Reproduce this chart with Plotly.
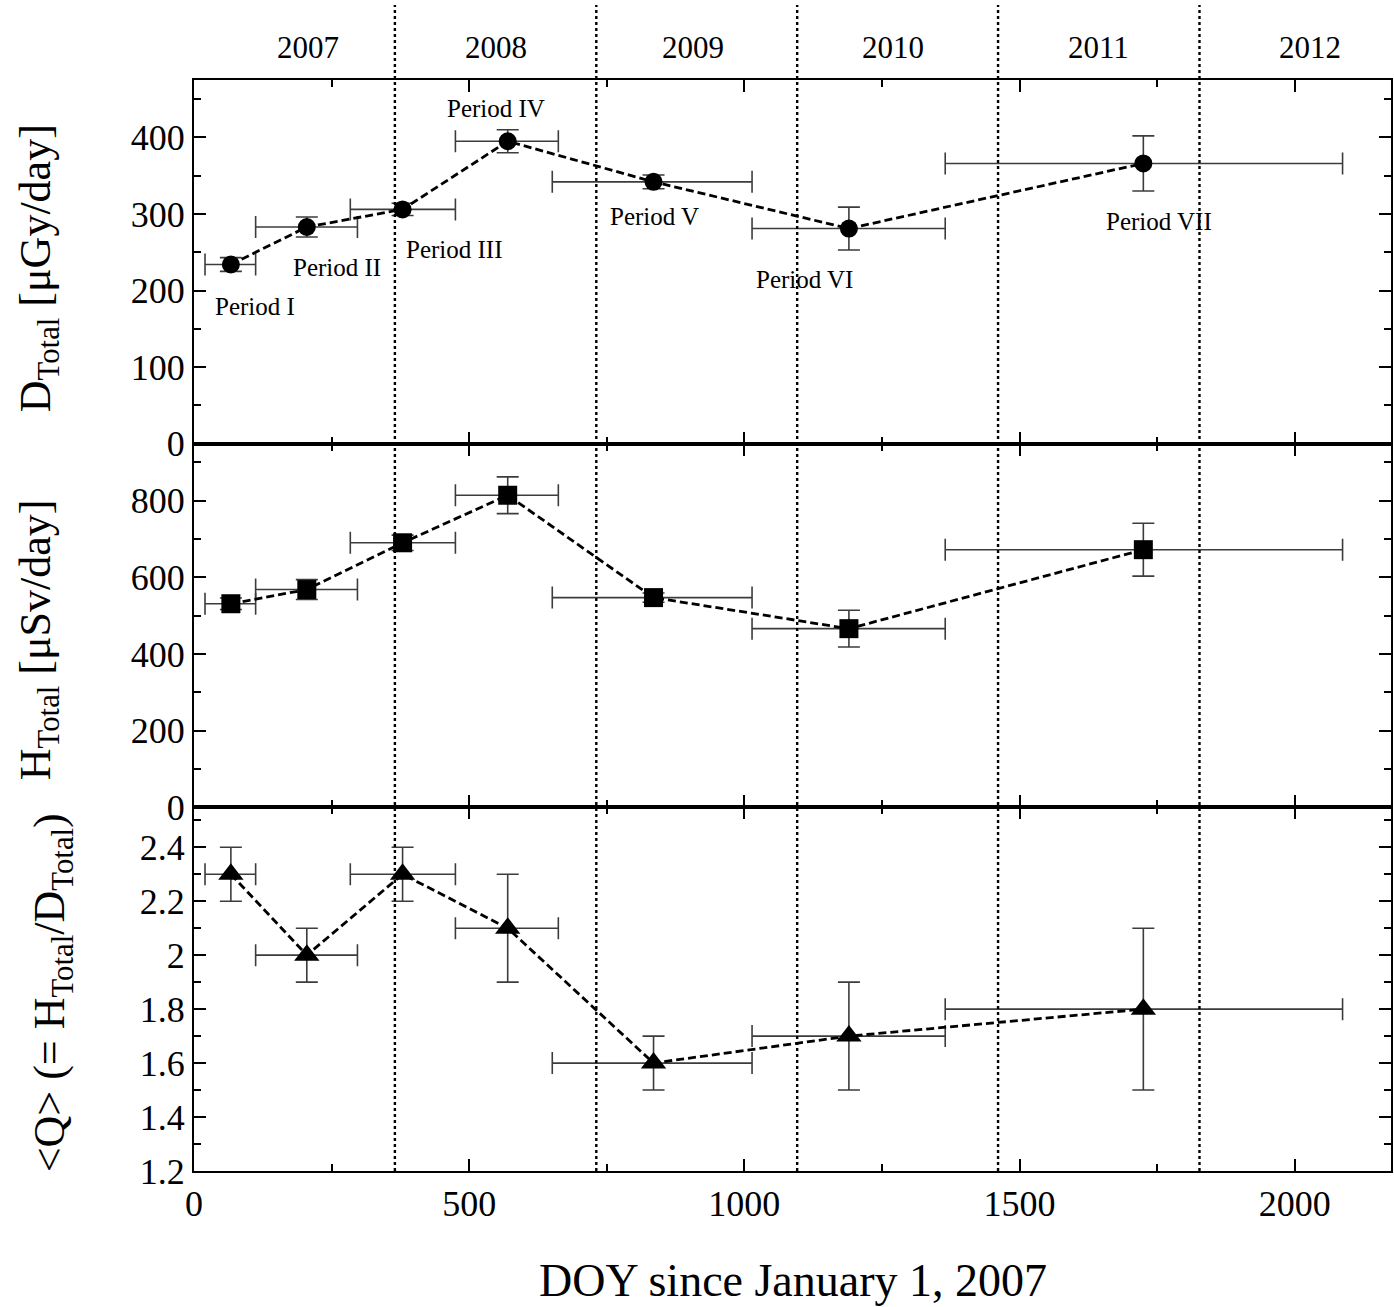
import plotly.graph_objects as go
from plotly.subplots import make_subplots

# Observation periods (day of year since Jan 1, 2007)
periods = ["Period I", "Period II", "Period III", "Period IV", "Period V", "Period VI", "Period VII"]
doy_mid = [67, 205, 379, 570, 835, 1190, 1725]
doy_start = [20, 112, 284, 475, 651, 1014, 1365]
doy_end = [112, 297, 475, 662, 1014, 1365, 2087]

# Total absorbed dose rate [uGy/day]
d_total = [234, 283, 306, 395, 342, 281, 366]
d_err = [9, 13, 8, 15, 9, 28, 36]

# Total dose equivalent rate [uSv/day]
h_total = [531, 568, 690, 814, 547, 466, 672]
h_err = [15, 26, 20, 48, 12, 48, 69]

# Mean quality factor
q_mean = [2.3, 2.0, 2.3, 2.1, 1.6, 1.7, 1.8]
q_err = [0.1, 0.1, 0.1, 0.2, 0.1, 0.2, 0.3]

# Year boundaries and year labels along the top
year_bounds = [365, 731, 1096, 1461, 1827]
year_labels = ["2007", "2008", "2009", "2010", "2011", "2012"]
year_label_x = [207, 548, 907, 1270, 1644, 2028]

# Period label anchor positions on the dose panel
period_label_x = [111, 260, 474, 548, 836, 1110, 1753]
period_label_y = [179, 230, 253, 438, 297, 214, 290]

FONT = "Liberation Serif"
W, H = 1394, 1307
ML, MR, MT, MB = 194, 1, 80, 136
PW = W - ML - MR
PH = H - MT - MB

fig = make_subplots(rows=3, cols=1, shared_xaxes=True, vertical_spacing=0)

xerr_plus = [e - m for e, m in zip(doy_end, doy_mid)]
xerr_minus = [m - s for m, s in zip(doy_mid, doy_start)]

ebar_color = "#3c3c3c"


def add_series(row, yvals, yerr, symbol, size):
    fig.add_trace(
        go.Scatter(
            x=doy_mid,
            y=yvals,
            mode="lines+markers",
            line=dict(color="black", width=2.8, dash="8px,4px"),
            marker=dict(symbol=symbol, size=size, color="black"),
            error_x=dict(type="data", symmetric=False, array=xerr_plus,
                         arrayminus=xerr_minus, color=ebar_color,
                         thickness=1.6, width=11),
            error_y=dict(type="data", array=yerr, color=ebar_color,
                         thickness=1.6, width=11),
            showlegend=False,
            hoverinfo="x+y",
        ),
        row=row, col=1,
    )


add_series(1, d_total, d_err, "circle", 18)
add_series(2, h_total, h_err, "square", 19)
add_series(3, q_mean, q_err, "triangle-up", 22)

axis_common = dict(
    showline=True, linecolor="black", linewidth=2, mirror="ticks",
    ticks="inside", ticklen=12, tickwidth=2, tickcolor="black",
    showgrid=False, zeroline=False,
    tickfont=dict(family=FONT, size=36, color="black"),
)
minor_common = dict(ticks="inside", ticklen=7, tickwidth=2, tickcolor="black", showgrid=False)

for r in (1, 2, 3):
    fig.update_xaxes(
        range=[0, 2175], dtick=500, tick0=0,
        minor=dict(dtick=250, **minor_common),
        showticklabels=(r == 3),
        row=r, col=1, **axis_common,
    )

fig.update_yaxes(range=[0, 475], dtick=100, tick0=0,
                 minor=dict(dtick=50, **minor_common), row=1, col=1, **axis_common)
fig.update_yaxes(range=[0, 948.5], dtick=200, tick0=0,
                 minor=dict(dtick=100, **minor_common), row=2, col=1, **axis_common)
fig.update_yaxes(range=[1.2, 2.548], dtick=0.2, tick0=1.2,
                 minor=dict(dtick=0.1, **minor_common), row=3, col=1, **axis_common)


def px_x(px):
    return (px - ML) / PW


def px_y(py):
    return (H - MB - py) / PH


# Dotted year boundaries running from the bottom axis up past the top frame
for xb in year_bounds:
    fig.add_shape(type="line", xref="x3", yref="paper", x0=xb, x1=xb,
                  y0=0, y1=px_y(5), line=dict(color="black", width=2.4, dash="dot"),
                  layer="above")

# Year labels
for lbl, xl in zip(year_labels, year_label_x):
    fig.add_annotation(x=xl, xref="x3", y=px_y(48), yref="paper", text=lbl,
                       showarrow=False, xanchor="center", yanchor="middle",
                       font=dict(family=FONT, size=31, color="black"))

# Period labels on the dose panel
for lbl, xl, yl in zip(periods, period_label_x, period_label_y):
    fig.add_annotation(x=xl, xref="x", y=yl, yref="y", text=lbl,
                       showarrow=False, xanchor="center", yanchor="middle",
                       font=dict(family=FONT, size=25, color="black"))

# Y-axis titles
title_font = dict(family=FONT, size=44, color="black")
fig.add_annotation(x=px_x(38), y=px_y(268), xref="paper", yref="paper",
                   text="D<sub>Total</sub> [μGy/day]", textangle=-90,
                   showarrow=False, xanchor="center", yanchor="middle", font=title_font)
fig.add_annotation(x=px_x(38), y=px_y(640), xref="paper", yref="paper",
                   text="H<sub>Total</sub> [μSv/day]", textangle=-90,
                   showarrow=False, xanchor="center", yanchor="middle", font=title_font)
fig.add_annotation(x=px_x(52), y=px_y(993), xref="paper", yref="paper",
                   text="&lt;Q&gt; (= H<sub>Total</sub>/D<sub>Total</sub>)", textangle=-90,
                   showarrow=False, xanchor="center", yanchor="middle", font=title_font)

# X-axis title
fig.add_annotation(x=px_x(794), y=px_y(1280), xref="paper", yref="paper",
                   text="DOY since January 1, 2007", showarrow=False,
                   xanchor="center", yanchor="middle",
                   font=dict(family=FONT, size=46, color="black"))

fig.update_layout(
    width=W, height=H,
    margin=dict(l=ML, r=MR, t=MT, b=MB),
    paper_bgcolor="white", plot_bgcolor="white",
    font=dict(family=FONT, color="black"),
)

fig.write_html("out.html")
